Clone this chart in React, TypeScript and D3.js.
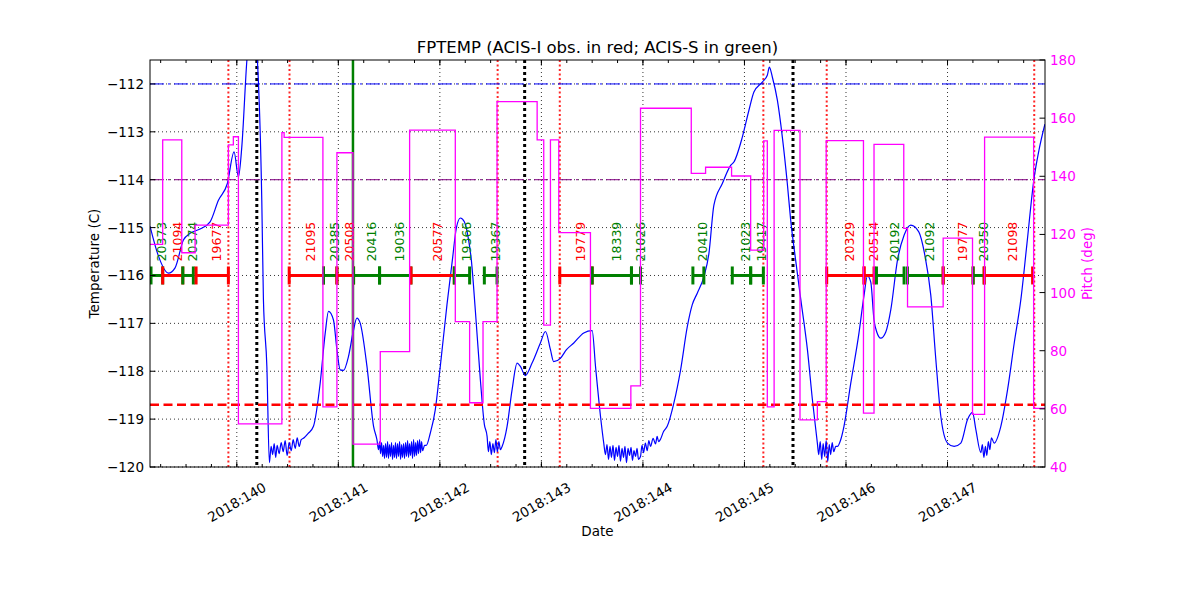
import React from 'react';
import * as d3 from 'd3';

const W = 1200;
const H = 600;
const PL = 150, PR = 1045, PT = 60, PB = 467;

const xDomain: [number, number] = [139.145, 147.96];
const tempDomain: [number, number] = [-120, -111.5];
const pitchDomain: [number, number] = [40, 180];

const dayTicks = [140, 141, 142, 143, 144, 145, 146, 147];
const dayLabels = ['2018:140', '2018:141', '2018:142', '2018:143', '2018:144', '2018:145', '2018:146', '2018:147'];
const tempTicks = [-120, -119, -118, -117, -116, -115, -114, -113, -112];
const pitchTicks = [40, 60, 80, 100, 120, 140, 160, 180];

const obsStart = [139.155, 139.270, 139.468, 139.599, 140.516, 140.854, 140.986, 141.150, 141.406, 141.715, 142.142, 142.438, 143.181, 143.500, 143.887, 144.492, 144.880, 145.061, 145.810, 146.178, 146.300, 146.606, 146.957, 147.252, 147.361];
const obsStop = [139.270, 139.468, 139.572, 139.917, 140.854, 140.986, 141.150, 141.406, 141.715, 142.142, 142.293, 142.563, 143.500, 143.887, 143.976, 144.600, 145.061, 145.186, 146.178, 146.276, 146.572, 146.957, 147.252, 147.361, 147.838];
const obsIds = ['20373', '21094', '20374', '19677', '21095', '20385', '20508', '20416', '19036', '20577', '19366', '19367', '19779', '18339', '21026', '20410', '21023', '19417', '20329', '20514', '20192', '21092', '19777', '20350', '21098'];
const obsInstr = ['S', 'I', 'S', 'I', 'I', 'S', 'I', 'S', 'S', 'I', 'S', 'S', 'I', 'S', 'S', 'S', 'S', 'S', 'I', 'I', 'S', 'S', 'I', 'S', 'I'];
const obsLevel = -116;

const redLines = [139.917, 140.519, 142.569, 143.181, 145.186, 145.810, 147.854];
const blackLines = [140.197, 142.835, 145.478];
const greenLines = [141.144];

const planLimit = -112;
const acisILimit = -114;
const coldLimit = -118.7;

const tempData: [number, number][] = [
  [139.145, -114.97], [139.224, -115.57], [139.326, -115.95], [139.392, -115.84], [139.474, -115.26], [139.540, -115.12], [139.638, -115.03], [139.737, -114.88], [139.819, -114.43], [139.907, -114.08], [139.973, -113.42], [140.016, -113.94], [140.049, -113.32], [140.099, -111.51], [140.151, -110.47], [140.203, -111.51], [140.246, -114.43], [140.262, -116.49], [140.296, -117.90], [140.321, -119.91],
  [140.338, -119.57], [140.353, -119.74], [140.368, -119.51], [140.383, -119.80], [140.397, -119.55], [140.417, -119.72], [140.437, -119.49], [140.457, -119.68], [140.476, -119.45], [140.496, -119.76], [140.516, -119.49], [140.536, -119.66], [140.555, -119.43], [140.575, -119.61], [140.595, -119.39], [140.614, -119.57], [140.634, -119.43], [140.663, -119.39], [140.703, -119.30],
  [140.755, -119.15], [140.821, -118.25], [140.871, -117.20], [140.903, -116.75], [140.952, -116.93], [140.986, -117.55], [141.018, -117.97], [141.051, -117.98], [141.100, -117.69], [141.144, -117.20], [141.183, -116.89], [141.216, -117.00], [141.282, -117.90], [141.347, -119.15], [141.380, -119.43],
  [141.396, -119.64], [141.406, -119.47], [141.416, -119.72], [141.426, -119.49], [141.436, -119.78], [141.446, -119.55], [141.455, -119.82], [141.465, -119.51], [141.475, -119.80], [141.485, -119.47], [141.494, -119.82], [141.504, -119.53], [141.514, -119.78], [141.524, -119.49], [141.534, -119.84], [141.544, -119.55], [141.554, -119.80], [141.563, -119.49], [141.573, -119.82], [141.583, -119.51], [141.593, -119.78], [141.603, -119.47], [141.613, -119.84], [141.623, -119.53], [141.632, -119.80], [141.642, -119.51], [141.652, -119.82], [141.662, -119.49], [141.672, -119.78], [141.682, -119.45], [141.692, -119.80], [141.701, -119.51], [141.711, -119.76], [141.721, -119.47], [141.731, -119.82], [141.741, -119.43], [141.751, -119.78], [141.761, -119.49], [141.770, -119.76], [141.780, -119.45], [141.790, -119.72], [141.800, -119.43], [141.810, -119.70], [141.820, -119.47], [141.830, -119.66], [141.849, -119.55],
  [141.866, -119.55], [141.906, -119.29], [141.955, -118.80], [142.004, -117.90], [142.070, -116.61], [142.123, -115.68], [142.162, -115.01], [142.202, -114.80], [142.241, -114.88], [142.280, -115.22], [142.310, -115.68], [142.349, -116.72], [142.399, -118.18], [142.438, -119.11], [142.465, -119.36],
  [142.478, -119.68], [142.492, -119.47], [142.507, -119.74], [142.522, -119.51], [142.537, -119.70], [142.552, -119.43], [142.566, -119.68], [142.581, -119.47], [142.596, -119.64], [142.613, -119.57],
  [142.662, -119.15], [142.711, -118.39], [142.761, -117.83], [142.793, -117.90], [142.842, -118.09], [142.908, -117.83], [142.990, -117.41], [143.040, -117.17], [143.089, -117.55], [143.121, -117.80], [143.187, -117.73], [143.247, -117.55], [143.319, -117.41], [143.417, -117.20], [143.500, -117.15], [143.533, -117.90], [143.582, -118.94], [143.614, -119.50],
  [143.631, -119.74], [143.646, -119.53], [143.661, -119.84], [143.676, -119.57], [143.690, -119.80], [143.705, -119.55], [143.720, -119.86], [143.735, -119.59], [143.750, -119.78], [143.764, -119.55], [143.779, -119.88], [143.794, -119.61], [143.809, -119.80], [143.823, -119.57], [143.838, -119.91], [143.853, -119.61], [143.868, -119.76], [143.883, -119.59], [143.897, -119.86], [143.912, -119.66], [143.927, -119.78], [143.942, -119.61], [143.956, -119.84],
  [143.976, -119.78], [143.991, -119.55], [144.006, -119.70], [144.024, -119.50], [144.042, -119.66], [144.058, -119.45], [144.075, -119.57], [144.100, -119.40], [144.124, -119.52], [144.140, -119.36], [144.154, -119.47], [144.173, -119.42], [144.203, -119.26], [144.239, -119.15], [144.305, -118.66], [144.371, -117.97], [144.437, -117.07], [144.486, -116.61], [144.535, -116.37], [144.600, -116.03], [144.650, -115.54], [144.699, -114.53], [144.782, -114.08], [144.864, -113.70], [144.896, -113.63], [144.979, -113.11], [145.044, -112.55], [145.093, -112.17], [145.176, -111.96], [145.225, -111.82], [145.245, -111.65], [145.275, -111.86], [145.324, -112.34], [145.373, -113.11], [145.422, -114.08], [145.455, -114.84], [145.504, -115.68], [145.554, -116.49], [145.620, -117.55], [145.669, -118.59], [145.718, -119.50],
  [145.731, -119.74], [145.746, -119.47], [145.761, -119.84], [145.775, -119.51], [145.790, -119.78], [145.805, -119.45], [145.820, -119.88], [145.835, -119.53], [145.849, -119.74], [145.864, -119.49], [145.879, -119.68], [145.899, -119.57],
  [145.915, -119.57], [145.948, -119.43], [145.980, -119.15], [146.047, -118.25], [146.128, -117.20], [146.178, -116.41], [146.211, -116.01], [146.244, -116.14], [146.276, -116.93], [146.303, -117.18], [146.342, -117.31], [146.392, -117.18], [146.441, -116.72], [146.507, -115.68], [146.572, -115.16], [146.638, -114.95], [146.717, -115.09], [146.776, -115.57], [146.835, -116.41], [146.885, -117.76], [146.934, -118.94], [147.000, -119.50], [147.065, -119.57], [147.131, -119.50], [147.197, -119.01], [147.246, -118.86], [147.279, -119.22], [147.328, -119.70],
  [147.343, -119.53], [147.358, -119.80], [147.373, -119.57], [147.387, -119.76], [147.402, -119.47], [147.417, -119.64], [147.432, -119.39], [147.459, -119.50],
  [147.525, -119.15], [147.591, -118.39], [147.657, -117.41], [147.723, -116.49], [147.782, -115.34], [147.851, -113.99], [147.900, -113.39], [147.959, -112.84],
];

const pitchData: [number, number][] = [
  [139.145, 116.6], [139.270, 152.5], [139.458, 113.7], [139.589, 123.2], [139.917, 150.8], [139.966, 153.6], [140.016, 54.8], [140.444, 155.0], [140.466, 153.4], [140.848, 60.7], [140.986, 148.1], [141.144, 47.9], [141.413, 79.7], [141.702, 155.9], [142.152, 90.0], [142.293, 62.1], [142.425, 90.0], [142.563, 165.7], [142.958, 152.5], [143.023, 88.8], [143.089, 152.5], [143.171, 120.6], [143.483, 60.2], [143.881, 67.9], [143.976, 163.4], [144.476, 141.0], [144.617, 143.1], [144.873, 140.1], [145.061, 114.6], [145.189, 152.2], [145.225, 60.7], [145.292, 155.8], [145.547, 56.2], [145.718, 62.5], [145.805, 152.3], [146.172, 58.5], [146.276, 151.0], [146.569, 122.1], [146.606, 95.1], [146.957, 118.7], [147.246, 58.1], [147.365, 153.5], [147.848, 60.2], [147.970, 60.2],
];

const FONT = 'DejaVu Sans, sans-serif';
const RED = '#ff0000';
const GREEN = '#008000';
const BLUE = '#0000ff';
const MAGENTA = '#ff00ff';
const PURPLE = '#800080';

export default function App() {
  const x = d3.scaleLinear().domain(xDomain).range([PL, PR]);
  const yT = d3.scaleLinear().domain(tempDomain).range([PB, PT]);
  const yP = d3.scaleLinear().domain(pitchDomain).range([PB, PT]);

  const tempLine = d3.line<[number, number]>().x(d => x(d[0])).y(d => yT(d[1])).curve(d3.curveMonotoneX)(tempData) || '';
  const pitchLine = d3.line<[number, number]>().x(d => x(d[0])).y(d => yP(d[1])).curve(d3.curveStepAfter)(pitchData) || '';

  const minorTicks: number[] = [];
  for (let t = Math.ceil(xDomain[0] * 4) / 4; t <= xDomain[1]; t += 0.25) minorTicks.push(t);

  const col = (s: string) => (s === 'I' ? RED : GREEN);

  return (
    <div style={{ position: 'absolute', left: 0, top: 0 }}>
      <svg width={W} height={H} style={{ display: 'block', background: '#fff' }} fontFamily={FONT}>
        <defs>
          <clipPath id="plotclip">
            <rect x={PL} y={PT} width={PR - PL} height={PB - PT} />
          </clipPath>
        </defs>
        <rect x={0} y={0} width={W} height={H} fill="#fff" />
        <g stroke="#000" strokeWidth={0.8} strokeDasharray="1,3">
          {dayTicks.map(d => <line key={'gx' + d} x1={x(d)} x2={x(d)} y1={PT} y2={PB} />)}
          {tempTicks.map(t => <line key={'gy' + t} x1={PL} x2={PR} y1={yT(t)} y2={yT(t)} />)}
        </g>
        <g clipPath="url(#plotclip)">
          {redLines.map((d, i) => <line key={'r' + i} x1={x(d)} x2={x(d)} y1={PT} y2={PB} stroke={RED} strokeOpacity={0.85} strokeWidth={2} strokeDasharray="2,2.5" />)}
          {blackLines.map((d, i) => <line key={'k' + i} x1={x(d)} x2={x(d)} y1={PT} y2={PB} stroke="#000" strokeWidth={3} strokeDasharray="3,3" />)}
          {greenLines.map((d, i) => <line key={'g' + i} x1={x(d)} x2={x(d)} y1={PT} y2={PB} stroke={GREEN} strokeWidth={2.5} />)}
          <path d={tempLine} fill="none" stroke={BLUE} strokeWidth={1.2} strokeLinejoin="round" />
          <line x1={PL} x2={PR} y1={yT(planLimit)} y2={yT(planLimit)} stroke={BLUE} strokeWidth={1} strokeDasharray="14,4,2,4" />
          <line x1={PL} x2={PR} y1={yT(acisILimit)} y2={yT(acisILimit)} stroke={PURPLE} strokeWidth={1} strokeDasharray="14,4,2,4" />
          <line x1={PL} x2={PR} y1={yT(coldLimit)} y2={yT(coldLimit)} stroke={RED} strokeWidth={2.5} strokeDasharray="9,4.5" />
          {obsIds.map((id, i) => {
            const x0 = x(obsStart[i]);
            const x1 = x(obsStop[i]);
            const y = yT(obsLevel);
            const c = col(obsInstr[i]);
            const xm = (x0 + x1) / 2;
            return (
              <g key={'o' + i}>
                <line x1={x0} x2={x1} y1={y} y2={y} stroke={c} strokeWidth={3} />
                <line x1={x0} x2={x0} y1={y - 9} y2={y + 9} stroke={c} strokeWidth={3} />
                <line x1={x1} x2={x1} y1={y - 9} y2={y + 9} stroke={c} strokeWidth={3} />
                <text transform={`translate(${xm + 9},${y - 14}) rotate(-90)`} fill={c} fontSize={12.5}>{id}</text>
              </g>
            );
          })}
          <path d={pitchLine} fill="none" stroke={MAGENTA} strokeWidth={1.3} />
        </g>
        <rect x={PL} y={PT} width={PR - PL} height={PB - PT} fill="none" stroke="#000" strokeWidth={1} />
        <g stroke="#000" strokeWidth={1}>
          {dayTicks.map(d => (
            <g key={'xt' + d}>
              <line x1={x(d)} x2={x(d)} y1={PB} y2={PB - 5.5} />
              <line x1={x(d)} x2={x(d)} y1={PT} y2={PT + 5.5} />
            </g>
          ))}
          {minorTicks.map((d, i) => (
            <g key={'xm' + i}>
              <line x1={x(d)} x2={x(d)} y1={PB} y2={PB - 3} />
              <line x1={x(d)} x2={x(d)} y1={PT} y2={PT + 3} />
            </g>
          ))}
          {tempTicks.map(t => <line key={'yt' + t} x1={PL} x2={PL + 5.5} y1={yT(t)} y2={yT(t)} />)}
          {pitchTicks.map(p => <line key={'pt' + p} x1={PR} x2={PR - 5.5} y1={yP(p)} y2={yP(p)} />)}
        </g>
        {dayTicks.map((d, i) => (
          <text key={'xl' + d} transform={`translate(${x(d)},${502}) rotate(-30)`} textAnchor="middle" dominantBaseline="central" fontSize={13.5}>{dayLabels[i]}</text>
        ))}
        {tempTicks.map(t => (
          <text key={'yl' + t} x={PL - 6} y={yT(t)} textAnchor="end" dominantBaseline="central" fontSize={13.5}>{'\u2212' + Math.abs(t)}</text>
        ))}
        {pitchTicks.map(p => (
          <text key={'pl' + p} x={PR + 5} y={yP(p)} textAnchor="start" dominantBaseline="central" fontSize={13.5} fill={MAGENTA}>{p}</text>
        ))}
        <text x={(PL + PR) / 2} y={53} textAnchor="middle" fontSize={16.5}>FPTEMP (ACIS-I obs. in red; ACIS-S in green)</text>
        <text x={(PL + PR) / 2} y={536} textAnchor="middle" fontSize={13.5}>Date</text>
        <text transform={`translate(${99},${(PT + PB) / 2}) rotate(-90)`} textAnchor="middle" fontSize={13.5}>Temperature (C)</text>
        <text transform={`translate(${1092},${(PT + PB) / 2}) rotate(-90)`} textAnchor="middle" fontSize={13.5} fill={MAGENTA}>Pitch (deg)</text>
      </svg>
    </div>
  );
}
